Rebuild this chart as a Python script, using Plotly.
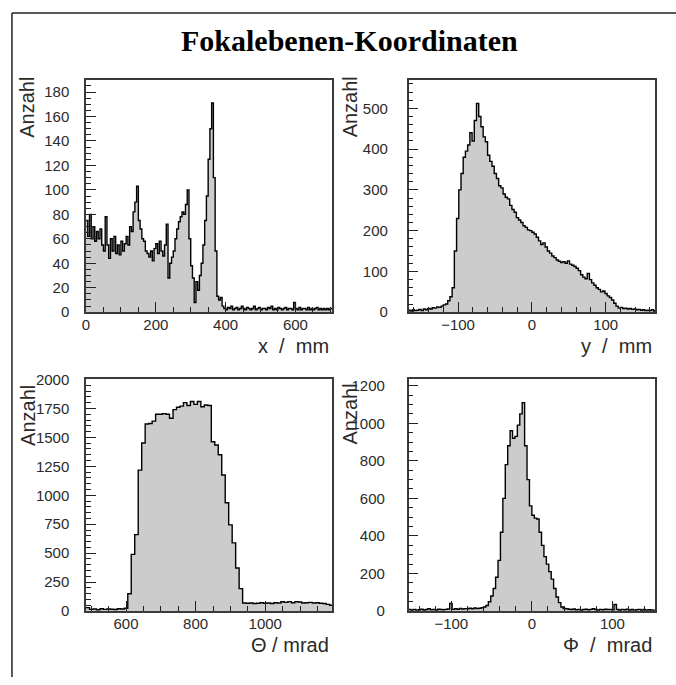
import plotly.graph_objects as go

W, H = 676, 685

# ---- histogram contents -------------------------------------------------
# x / mm : 5 mm bins starting at 0 mm
x_lo, x_bw = 0.0, 5.0
x_counts = [
    75, 62, 80, 60, 70, 58, 66, 60, 68, 55,
    50, 78, 55, 44, 60, 50, 62, 48, 55, 47,
    58, 50, 56, 62, 55, 70, 66, 82, 90, 103,
    75, 68, 60, 58, 50, 48, 45, 50, 42, 52,
    56, 48, 58, 50, 46, 55, 72, 28, 40, 45,
    50, 60, 68, 74, 78, 82, 80, 88, 100, 60,
    38, 28, 8, 25, 18, 30, 40, 55, 75, 95,
    125, 150, 171, 110, 50, 13, 10, 12, 5,
    3, 2, 4, 3, 5, 2, 3, 4, 2, 3,
    5, 3, 2, 4, 3, 2, 3, 5, 2, 3,
    4, 2, 3, 3, 2, 4, 3, 5, 2, 3,
    2, 4, 3, 2, 3, 4, 2, 3, 3, 2,
    8, 3, 2, 4, 2, 3, 3, 2, 4, 2,
    3, 2, 3, 4, 2, 3, 2, 3, 2, 3,
    2, 3,
]

# y / mm : 3 mm bins starting at -168 mm
y_lo, y_bw = -168.0, 3.0
y_counts = [
    5, 3, 6, 4, 5, 7, 4, 8, 6, 9,
    8, 11, 10, 13, 12, 15, 18, 20, 28, 38,
    60, 150, 230, 300, 340, 380, 395, 410, 440, 420,
    470, 512, 480, 455, 430, 418, 385, 370, 358, 340,
    328, 310, 305, 290, 282, 278, 262, 252, 245, 232,
    226, 220, 212, 208, 202, 200, 196, 192, 184, 175,
    166, 170, 160, 150, 145, 138, 134, 128, 125, 122,
    124, 120, 126, 118, 115, 112, 108, 102, 92, 86,
    82, 95, 80, 72, 66, 60, 56, 50, 52, 46,
    40, 36, 30, 22, 15, 10, 12, 9, 10, 8,
    9, 7, 8, 6, 7, 5, 6, 4, 5, 4,
    6, 3,
]

# Theta / mrad : 10 mrad bins starting at 485 mrad
theta_lo, theta_bw = 485.0, 10.0
theta_counts = [
    30, 15, 18, 12, 20, 15, 18, 16, 14, 20, 18, 25,
    150, 490, 660, 1217, 1451, 1615, 1620, 1640, 1700, 1700,
    1705, 1700, 1665, 1740, 1760, 1770, 1800, 1775, 1810, 1785,
    1810, 1765, 1780, 1775, 1462, 1434, 1350, 1175, 935, 744,
    589, 372, 194, 70,
    68, 70, 65, 68, 72, 68, 70, 66, 72, 70,
    80, 75, 82, 72, 80, 78, 70, 72, 75, 70,
    72, 68, 65, 58, 50,
]

# Phi / mrad : 3 mrad bins starting at -153 mrad
phi_lo, phi_bw = -153.0, 3.0
phi_counts = [
    8, 6, 9, 5, 7, 10, 6, 8, 12, 7,
    9, 6, 10, 8, 7, 9, 11, 40, 9, 12,
    10, 14, 11, 13, 12, 15, 12, 16, 14, 15,
    18, 22, 30, 50, 80, 120, 180, 270, 420, 600,
    780, 880, 960, 920, 930, 990, 1050, 1110, 880, 700,
    560, 510, 495, 490, 420, 350, 290, 250, 210, 170,
    120, 75, 45, 22, 14, 12, 10, 8, 11, 7,
    9, 6, 8, 10, 7, 9, 12, 8, 6, 9,
    7, 10, 8, 9, 7, 35, 8, 6, 9, 7,
    10, 6, 8, 5, 7, 9, 6, 8, 5, 7,
    6, 5,
]

NB = "\u00a0"

# ---- panel setup -----------------------------------------------------------
panels = [
    dict(lo=x_lo, bw=x_bw, counts=x_counts,
         xr=[0, 705], yr=[0, 190],
         xdt=200, xminor=50, ydt=20, yminor=5,
         box=(82.5, 73.5, 330, 311.5), ylab_top=68.5, ystand=12,
         xtitle=f"x{NB}{NB}/{NB}{NB}mm"),
    dict(lo=y_lo, bw=y_bw, counts=y_counts,
         xr=[-167, 167], yr=[0, 570],
         xdt=100, xminor=20, ydt=100, yminor=20,
         box=(407, 73.5, 655, 311.5), ylab_top=67.5, ystand=16,
         xtitle=f"y{NB}{NB}/{NB}{NB}mm"),
    dict(lo=theta_lo, bw=theta_bw, counts=theta_counts,
         xr=[485, 1192], yr=[0, 2003],
         xdt=200, xminor=50, ydt=250, yminor=50,
         box=(82.5, 380, 330, 617.5), ylab_top=384, ystand=12,
         xtitle=f"\u0398{NB}/{NB}mrad"),
    dict(lo=phi_lo, bw=phi_bw, counts=phi_counts,
         xr=[-153, 153], yr=[0, 1235],
         xdt=100, xminor=20, ydt=200, yminor=50,
         box=(407, 380, 655, 617.5), ylab_top=382, ystand=19,
         xtitle=f"\u03a6{NB}{NB}/{NB}{NB}mrad"),
]

TICK_FONT = dict(family="Liberation Sans, Arial, sans-serif", size=15, color="#2a2a2a")
LABEL_FONT = dict(family="Liberation Sans, Arial, sans-serif", size=20, color="#2a2a2a")
FRAME = "#3a3a3a"

fig = go.Figure()
layout = dict(
    width=W, height=H,
    margin=dict(l=0, r=0, t=0, b=0),
    paper_bgcolor="white", plot_bgcolor="white",
    showlegend=False,
)
annotations = []

for k, p in enumerate(panels, start=1):
    n = len(p["counts"])
    edges = [p["lo"] + i * p["bw"] for i in range(n + 1)]
    heights = list(p["counts"]) + [p["counts"][-1]]
    xa = "x" if k == 1 else f"x{k}"
    ya = "y" if k == 1 else f"y{k}"
    fig.add_trace(go.Scatter(
        x=edges, y=heights, mode="lines", line_shape="hv",
        fill="tozeroy", fillcolor="#cccccc",
        line=dict(color="black", width=1.4),
        xaxis=xa, yaxis=ya, hoverinfo="skip",
    ))
    x0, y0, x1, y1 = p["box"]
    xkey = "xaxis" if k == 1 else f"xaxis{k}"
    ykey = "yaxis" if k == 1 else f"yaxis{k}"
    layout[xkey] = dict(
        domain=[x0 / W, x1 / W], anchor=ya, range=p["xr"],
        showgrid=False, zeroline=False,
        showline=True, mirror=True, linecolor=FRAME, linewidth=1.5,
        ticks="inside", ticklen=10, tickwidth=1.2, tickcolor="#222",
        dtick=p["xdt"], tick0=0,
        minor=dict(ticks="inside", ticklen=5, tickwidth=1.2, tickcolor="#222",
                   dtick=p["xminor"], tick0=0, showgrid=False),
        tickfont=TICK_FONT, ticklabelstandoff=-2,
    )
    layout[ykey] = dict(
        domain=[1 - y1 / H, 1 - y0 / H], anchor=xa, range=p["yr"],
        showgrid=False, zeroline=False,
        showline=True, mirror=True, linecolor=FRAME, linewidth=1.5,
        ticks="inside", ticklen=10, tickwidth=1.2, tickcolor="#222",
        dtick=p["ydt"], tick0=0,
        minor=dict(ticks="inside", ticklen=5, tickwidth=1.2, tickcolor="#222",
                   dtick=p["yminor"], tick0=0, showgrid=False),
        tickfont=TICK_FONT, ticklabelstandoff=p["ystand"],
    )
    # axis captions
    annotations.append(dict(
        text=p["xtitle"], xref="paper", yref="paper",
        x=(x1 - 1) / W, y=1 - (y1 + 35) / H, xanchor="right", yanchor="middle",
        showarrow=False, font=LABEL_FONT,
    ))
    annotations.append(dict(
        text="Anzahl", xref="paper", yref="paper",
        x=(x0 - 59) / W, y=1 - p["ylab_top"] / H, xanchor="center", yanchor="top",
        textangle=-90, showarrow=False, font=LABEL_FONT,
    ))

annotations.append(dict(
    text="<b>Fokalebenen-Koordinaten</b>", xref="paper", yref="paper",
    x=348 / W, y=1 - 33 / H, xanchor="center", yanchor="middle",
    showarrow=False,
    font=dict(family="Liberation Serif, Times New Roman, serif", size=30, color="black"),
))
layout["annotations"] = annotations

# page frame (top and left edges)
layout["shapes"] = [
    dict(type="line", xref="paper", yref="paper",
         x0=8 / W, x1=1, y0=1 - 5 / H, y1=1 - 5 / H,
         line=dict(color="#222", width=1.5)),
    dict(type="line", xref="paper", yref="paper",
         x0=8 / W, x1=8 / W, y0=0, y1=1 - 5 / H,
         line=dict(color="#222", width=1.5)),
]

fig.update_layout(**layout)
fig.write_html("out.html")
